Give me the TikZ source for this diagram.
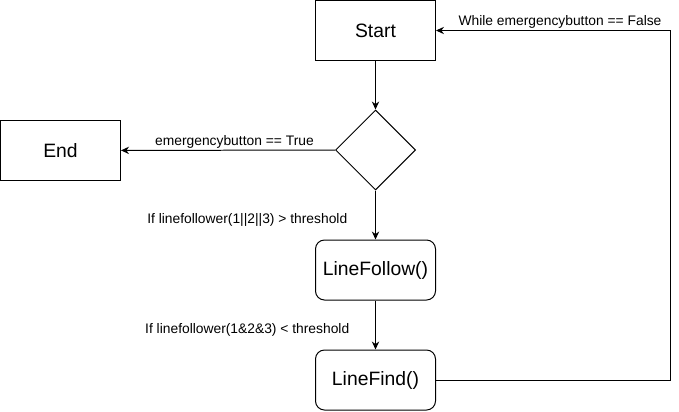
\documentclass[tikz,border=0pt]{standalone}
\usepackage{fontspec}
\setmainfont{Liberation Sans}
\usetikzlibrary{shapes.geometric, arrows.meta, positioning}
\tikzset{
	startstop/.style={rectangle, draw=black, line width=0.85pt, minimum width=3.6cm, minimum height=1.8cm, align=center, inner sep=0pt, font=\fontsize{16.5}{18}\selectfont},
	process/.style  ={startstop, rounded corners=0.27cm},
	decision/.style ={diamond, aspect=1, draw=black, line width=0.85pt, minimum width=2.4cm, minimum height=2.4cm, inner sep=0pt},
	flowarrow/.style={-{Stealth[length=2.4mm, width=2.2mm]}, line width=0.85pt},
	cond/.style     ={font=\fontsize{11.8}{13}\selectfont, inner sep=1.5pt},
}
\begin{document}
\begin{tikzpicture}[x=0.03cm, y=-0.03cm]
	\useasboundingbox (0,0) rectangle (679,411);
	\node[startstop] (start) at (375.5,30.5) {Start};
	\node[decision] (dec) at (375.5,150) {};
	\node[startstop] (end) at (60.5,150.5) {End};
	\node[process] (follow) at (375.5,270) {LineFollow()};
	\node[process] (find) at (375.5,380) {LineFind()};
	% loop back to start
	\coordinate (loopB) at (670,380);
	\coordinate (loopT) at (670,30.5);
	\draw[flowarrow] (start) -- (dec);
	\draw[flowarrow] (dec) -- node[cond, above, pos=0.47] {emergencybutton == True} (end);
	\draw[flowarrow] (dec) -- node[cond, anchor=east, pos=0.6, xshift=-0.78cm] {If linefollower(1||2||3) > threshold} (follow);
	\draw[flowarrow] (follow) -- node[cond, anchor=east, pos=0.6, xshift=-0.72cm] {If linefollower(1\&2\&3) < threshold} (find);
	\draw[flowarrow] (find) -- (loopB) -- (loopT) -- node[cond, above, pos=0.47] {While emergencybutton == False} (start);
\end{tikzpicture}
\end{document}
